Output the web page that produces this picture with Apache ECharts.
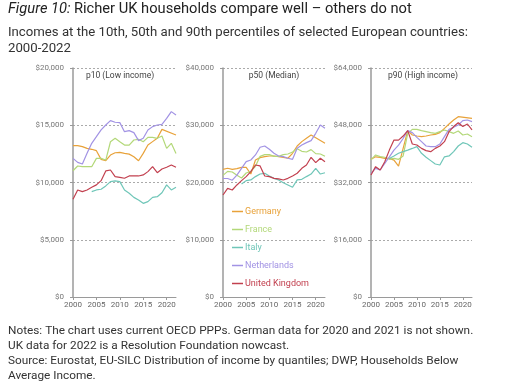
<!DOCTYPE html>
<html>
<head>
<meta charset="utf-8">
<script src="https://cdn.jsdelivr.net/npm/echarts@6/dist/echarts.min.js"></script>
<style>
html,body{margin:0;padding:0;background:#fff;}
#chart{width:511px;height:387px;}
</style>
</head>
<body>
<div id="chart"></div>
<script>
const years = [2000,2001,2002,2003,2004,2005,2006,2007,2008,2009,2010,2011,2012,2013,2014,2015,2016,2017,2018,2019,2020,2021,2022];
const countries = ['Germany','France','Italy','Netherlands','United Kingdom'];
const panelTitles = ['p10 (Low income)','p50 (Median)','p90 (High income)'];
const yMaxes = [20000, 40000, 64000];
const yIntervals = [5000, 10000, 16000];
const xTickInterval = 5;

const p10Germany = [13220,13220,13130,12980,12900,12780,12020,11900,12400,12600,12630,12540,12480,12250,11900,12540,13270,13570,13860,14640,null,null,14150];
const p10France = [11030,11440,11380,11380,11380,12110,12110,11960,13560,13860,13560,13270,13270,13710,13770,13560,13940,13940,13860,14060,12980,13420,12540];
const p10Italy = [null,null,null,null,9200,9350,9410,9700,10080,10140,10080,9350,9060,8700,8470,8180,8330,8700,8760,9110,9790,9350,9580];
const p10Netherlands = [12110,11760,11620,12550,13420,14000,14590,15020,15400,15260,15230,14440,14530,14360,13660,13860,14590,14880,15020,15080,15600,16190,15900];
const p10UK = [8530,9350,9200,9350,9580,9790,10160,11010,11090,10510,10450,10370,10570,10570,10570,10660,10950,11380,10860,11180,11330,11530,11330];

const p50Germany = [22300,22490,22300,22420,22650,22650,21480,23930,24340,24520,24630,24630,24520,24400,24230,25100,26380,27140,27720,28300,null,null,26840];
const p50France = [21250,21950,21830,21250,20790,21660,21950,22820,24570,24860,24860,24570,24570,24860,24980,25330,25910,25440,25330,25740,25040,24980,24570];
const p50Italy = [null,null,null,null,19720,20330,20450,21030,21480,21600,21140,20730,20450,19960,19570,19170,20450,20560,21030,21480,22480,21480,21710];
const p50Netherlands = [20700,20700,20400,21300,22480,23640,23930,24810,26150,26380,25800,25100,24630,24520,24230,24050,25970,26560,26960,27310,28590,30050,29460];
const p50UK = [17820,18980,18690,19570,20330,21030,21900,23060,22890,21140,21030,20730,20620,20440,20730,21140,21610,22480,23060,24400,23470,24230,23640];

const p90Germany = [38480,39180,39000,38730,38730,38260,36580,41520,46490,45270,44990,44810,44990,45270,45460,45930,47140,48350,49470,50400,null,null,49930];
const p90France = [38300,39700,39230,39050,38480,38760,38480,39420,45740,46860,46860,46490,46210,45930,45740,46210,46680,46210,45740,46400,45270,45550,44810];
const p90Italy = [null,null,null,null,38730,39420,40160,40630,41050,41520,42010,40160,39050,38110,37170,36900,39180,39420,40630,42200,43130,42760,41830];
const p90Netherlands = [34560,35950,35490,37350,39180,41050,42440,44300,46490,45930,44620,43410,42200,42010,42010,42760,44810,46860,47420,48070,49280,49470,49000];
const p90UK = [34100,36430,35490,37820,41050,43850,43850,44990,46490,42760,42480,41540,40900,40620,41540,42200,43410,46210,47630,48720,47630,48350,46680];

const panels = [
  [p10Germany, p10France, p10Italy, p10Netherlands, p10UK],
  [p50Germany, p50France, p50Italy, p50Netherlands, p50UK],
  [p90Germany, p90France, p90Italy, p90Netherlands, p90UK]
];

const colors = ['#E8A23A','#B3D879','#6FC6B8','#A293E4','#C2404F'];
const FONT = 'Roboto';

const grids = [
  {left:73, top:68, width:103, height:229},
  {left:223, top:68, width:102, height:229},
  {left:371, top:68, width:101, height:229}
];

const xAxes = grids.map((g,i)=>({
  type:'value', gridIndex:i, min:2000, max:2022, interval:xTickInterval,
  axisLine:{show:true, lineStyle:{color:'#9a9a9a', width:1}},
  axisTick:{show:true, length:3, lineStyle:{color:'#9a9a9a'}},
  axisLabel:{fontFamily:FONT, fontSize:8, color:'#666', margin:4, showMaxLabel:false,
    formatter:v=>String(v)},
  splitLine:{show:false}
}));

const yAxes = grids.map((g,i)=>({
  type:'value', gridIndex:i, min:0, max:yMaxes[i], interval:yIntervals[i],
  axisLine:{show:true, lineStyle:{color:'#9a9a9a', width:1.5}},
  axisTick:{show:true, length:3, lineStyle:{color:'#9a9a9a'}},
  axisLabel:{fontFamily:FONT, fontSize:8, color:'#777', margin:9,
    formatter:v=>'$'+v.toLocaleString('en-US')},
  splitLine:{show:true, lineStyle:{color:'#aaa', type:[2,2], width:1}}
}));

const series = [];
panels.forEach((vals,pi)=>{
  vals.forEach((arr,ci)=>{
    series.push({
      name: countries[ci], type:'line', xAxisIndex:pi, yAxisIndex:pi,
      data: years.map((y,k)=>[y, arr[k]]),
      showSymbol:false, symbol:'none', connectNulls:true,
      lineStyle:{color:colors[ci], width:1.2},
      itemStyle:{color:colors[ci]},
      animation:false, silent:true
    });
  });
});

const notes = [
  'Notes: The chart uses current OECD PPPs. German data for 2020 and 2021 is not shown.',
  'UK data for 2022 is a Resolution Foundation nowcast.',
  'Source: Eurostat, EU-SILC Distribution of income by quantiles; DWP, Households Below',
  'Average Income.'
];

const graphics = [
  {type:'text', left:8, top:2, style:{
    text:'{i|Figure 10:} {n|Richer UK households compare well \u2013 others do not}',
    rich:{i:{fontStyle:'italic', fontFamily:FONT, fontSize:14.7, fill:'#222'},
          n:{fontFamily:FONT, fontSize:14.7, fill:'#222'}}
  }},
  {type:'text', left:8, top:25, style:{
    text:'Incomes at the 10th, 50th and 90th percentiles of selected European countries:\n2000-2022',
    fontFamily:FONT, fontSize:13.2, lineHeight:16, fill:'#333'
  }},
  {type:'text', left:8, top:323, style:{
    text: notes.join('\n'), fontFamily:FONT, fontSize:11.8, lineHeight:15.3, fill:'#333'
  }}
];
const headerX = [120, 274, 423];
panelTitles.forEach((t,i)=>{
  graphics.push({type:'text', x:headerX[i], y:76, style:{
    text:t, fontFamily:FONT, fontSize:8.5, fill:'#444', align:'center', verticalAlign:'middle'
  }});
});

const option = {
  animation:false,
  grid: grids,
  xAxis: xAxes,
  yAxis: yAxes,
  series: series,
  legend: {
    orient:'vertical', left:232, top:206, itemWidth:11, itemHeight:1.5, icon:'rect',
    itemGap:7, padding:0, selectedMode:false,
    textStyle:{fontFamily:FONT, fontSize:9, padding:[0,0,0,-3], lineHeight:11},
    data: countries.map((c,i)=>({name:c, textStyle:{color:colors[i]}}))
  },
  graphic: graphics
};

const chart = echarts.init(document.getElementById('chart'), null, {renderer:'canvas'});
chart.setOption(option);
</script>
</body>
</html>
